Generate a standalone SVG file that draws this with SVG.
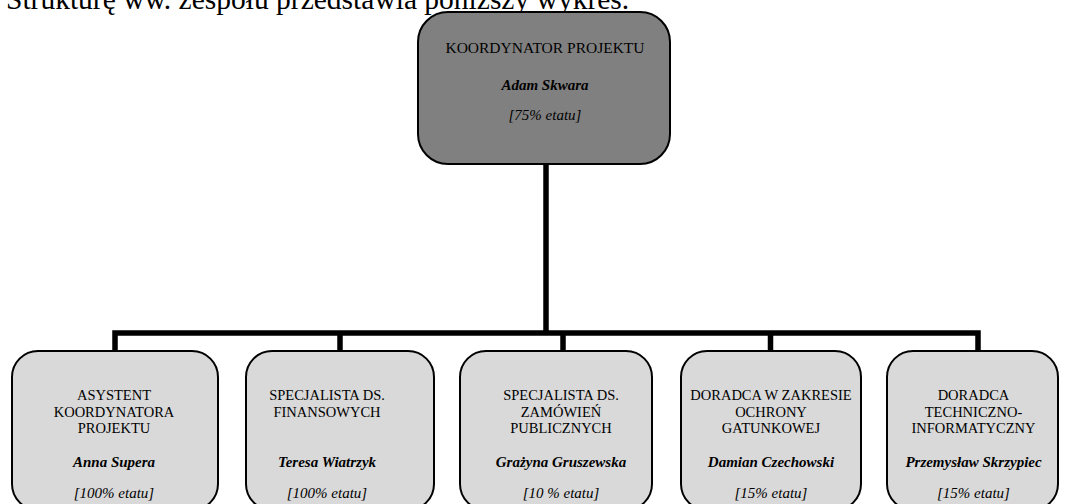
<svg xmlns="http://www.w3.org/2000/svg" width="1068" height="504" viewBox="0 0 1068 504">
<style>
text{font-family:"Liberation Serif","Times New Roman",serif;fill:#000;text-anchor:middle;font-size:15px}
.intro{text-anchor:start;font-size:29.5px}
.hd{font-size:14.5px}
.th{font-size:15.5px}
.nm{font-weight:bold;font-style:italic}
.et{font-style:italic}
.top{fill:#808080;stroke:#000;stroke-width:2}
.child{fill:#d9d9d9;stroke:#000;stroke-width:2}
.conn{fill:none;stroke:#000;stroke-width:5.5;stroke-linejoin:miter}
</style>
<rect width="1068" height="504" fill="#fff"/>
<text class="intro" x="6" y="8.5">Strukturę ww. zespołu przedstawia poniższy wykres.</text>
<g id="connectors">
<path class="conn" d="M546 164 V333"/>
<path class="conn" d="M115 351 V333 H978 V351"/>
<path class="conn" d="M340 333 V351 M563 333 V351 M770.5 333 V351"/>
</g>
<g id="n0">
<rect class="top" x="418" y="12" width="252" height="152" rx="30"/>
<text class="th" x="545" y="53">KOORDYNATOR PROJEKTU</text>
<text class="nm" x="545" y="90">Adam Skwara</text>
<text class="et" x="545" y="120">[75% etatu]</text>
</g>
<g id="n1">
<rect class="child" x="12" y="351" width="206" height="159" rx="26"/>
<text class="hd" x="114" y="400">ASYSTENT</text>
<text class="hd" x="114" y="416.5">KOORDYNATORA</text>
<text class="hd" x="114" y="433">PROJEKTU</text>
<text class="nm" x="114" y="467">Anna Supera</text>
<text class="et" x="114" y="498">[100% etatu]</text>
</g>
<g id="n2">
<rect class="child" x="246" y="351" width="188" height="159" rx="26"/>
<text class="hd" x="327" y="400">SPECJALISTA DS.</text>
<text class="hd" x="327" y="416.5">FINANSOWYCH</text>
<text class="nm" x="327" y="467">Teresa Wiatrzyk</text>
<text class="et" x="327" y="498">[100% etatu]</text>
</g>
<g id="n3">
<rect class="child" x="460" y="351" width="192" height="159" rx="26"/>
<text class="hd" x="561" y="400">SPECJALISTA DS.</text>
<text class="hd" x="561" y="416.5">ZAMÓWIEŃ</text>
<text class="hd" x="561" y="433">PUBLICZNYCH</text>
<text class="nm" x="561" y="467">Grażyna Gruszewska</text>
<text class="et" x="561" y="498">[10 % etatu]</text>
</g>
<g id="n4">
<rect class="child" x="681" y="351" width="180" height="159" rx="26"/>
<text class="hd" x="771" y="400">DORADCA W ZAKRESIE</text>
<text class="hd" x="771" y="416.5">OCHRONY</text>
<text class="hd" x="771" y="433">GATUNKOWEJ</text>
<text class="nm" x="771" y="467">Damian Czechowski</text>
<text class="et" x="771" y="498">[15% etatu]</text>
</g>
<g id="n5">
<rect class="child" x="887" y="351" width="171" height="159" rx="26"/>
<text class="hd" x="973.5" y="400">DORADCA</text>
<text class="hd" x="973.5" y="416.5">TECHNICZNO-</text>
<text class="hd" x="973.5" y="433">INFORMATYCZNY</text>
<text class="nm" x="973.5" y="467">Przemysław Skrzypiec</text>
<text class="et" x="973.5" y="498">[15% etatu]</text>
</g>
</svg>
